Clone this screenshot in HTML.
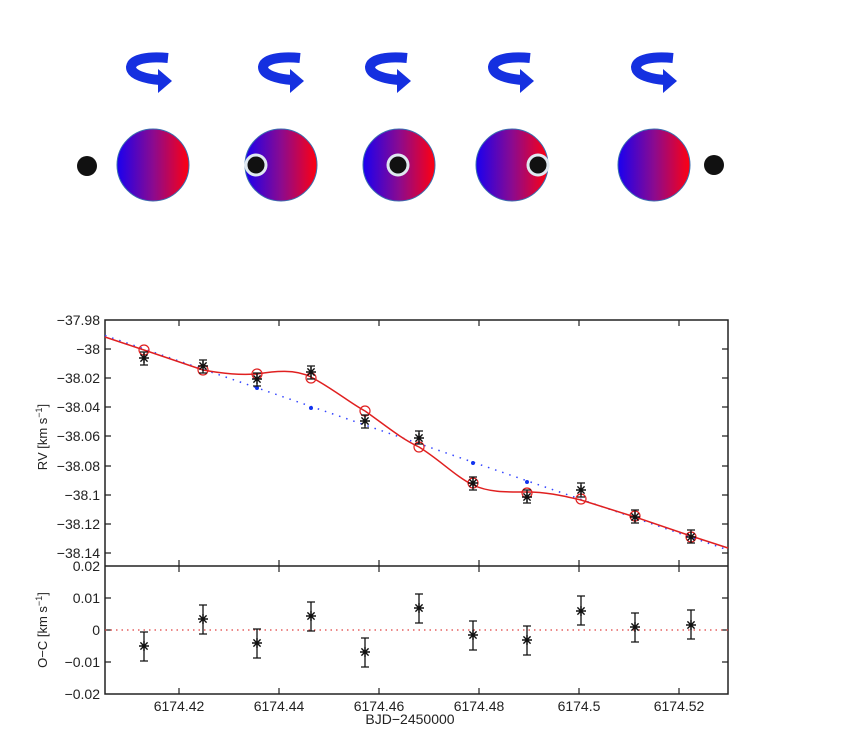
<!DOCTYPE html>
<html><head><meta charset="utf-8"><style>
html,body{margin:0;padding:0;background:#fff;}
svg{display:block;font-family:"Liberation Sans",sans-serif;}
</style></head><body>
<svg width="850" height="756" viewBox="0 0 850 756" xmlns="http://www.w3.org/2000/svg">
<defs>
<linearGradient id="g" x1="0" x2="1" y1="0" y2="0">
<stop offset="0" stop-color="#1a00f0"/><stop offset="0.5" stop-color="#8a0a90"/><stop offset="1" stop-color="#ff0010"/>
</linearGradient>
<g id="arr">
<path d="M40,5 C20,3 4,6 3,14 C3,22 18,26 32,27" fill="none" stroke="#1530e0" stroke-width="10"/>
<polygon points="30,16 44,28 30,40" fill="#1530e0"/>
</g>
<path id="st" d="M-5,0h10M0,-5v10M-3.6,-3.6l7.2,7.2M-3.6,3.6l7.2,-7.2" stroke="#111" stroke-width="1.4" fill="none"/>
</defs>
<use href="#arr" x="128" y="53"/>
<use href="#arr" x="260" y="53"/>
<use href="#arr" x="367" y="53"/>
<use href="#arr" x="490" y="53"/>
<use href="#arr" x="633" y="53"/>
<g stroke="#3a6fb0" stroke-width="1">
<circle cx="153" cy="165" r="36" fill="url(#g)"/>
<circle cx="281" cy="165" r="36" fill="url(#g)"/>
<circle cx="399" cy="165" r="36" fill="url(#g)"/>
<circle cx="512" cy="165" r="36" fill="url(#g)"/>
<circle cx="654" cy="165" r="36" fill="url(#g)"/>
</g>
<circle cx="87" cy="166" r="10" fill="#111"/>
<circle cx="714" cy="165" r="10" fill="#111"/>
<g fill="#111" stroke="#dfe8f0" stroke-width="3">
<circle cx="256" cy="165" r="10"/>
<circle cx="398" cy="165" r="10"/>
<circle cx="538" cy="165" r="10"/>
</g>
<g fill="none" stroke="#222" stroke-width="1.5">
<rect x="105" y="320" width="623" height="374"/>
<line x1="105" y1="566" x2="728" y2="566"/>
</g>
<g stroke="#222" stroke-width="1.2">
<path d="M179,320v6M279,320v6M379,320v6M479,320v6M579,320v6M679,320v6"/>
<path d="M179,566v-6M279,566v-6M379,566v-6M479,566v-6M579,566v-6M679,566v-6"/>
<path d="M179,566v6M279,566v6M379,566v6M479,566v6M579,566v6M679,566v6"/>
<path d="M179,694v-6M279,694v-6M379,694v-6M479,694v-6M579,694v-6M679,694v-6"/>
<path d="M105,349h6M105,378h6M105,407h6M105,436h6M105,466h6M105,495h6M105,524h6M105,553h6"/>
<path d="M728,349h-6M728,378h-6M728,407h-6M728,436h-6M728,466h-6M728,495h-6M728,524h-6M728,553h-6"/>
<path d="M105,598h6M105,630h6M105,662h6M728,598h-6M728,630h-6M728,662h-6"/>
</g>
<g font-size="14" fill="#222" text-anchor="end">
<text x="100" y="325">−37.98</text>
<text x="100" y="354">−38</text>
<text x="100" y="383">−38.02</text>
<text x="100" y="412">−38.04</text>
<text x="100" y="441">−38.06</text>
<text x="100" y="471">−38.08</text>
<text x="100" y="500">−38.1</text>
<text x="100" y="529">−38.12</text>
<text x="100" y="558">−38.14</text>
<text x="100" y="571">0.02</text>
<text x="100" y="603">0.01</text>
<text x="100" y="635">0</text>
<text x="100" y="667">−0.01</text>
<text x="100" y="699">−0.02</text>
</g>
<g font-size="14" fill="#222" text-anchor="middle">
<text x="179" y="711">6174.42</text>
<text x="279" y="711">6174.44</text>
<text x="379" y="711">6174.46</text>
<text x="479" y="711">6174.48</text>
<text x="579" y="711">6174.5</text>
<text x="679" y="711">6174.52</text>
<text x="410" y="724">BJD−2450000</text>
</g>
<g font-size="13" fill="#222" text-anchor="middle">
<text transform="translate(47,437) rotate(-90)">RV [km s<tspan font-size="9" dy="-5">−1</tspan><tspan dy="5">]</tspan></text>
<text transform="translate(47,630) rotate(-90)">O−C [km s<tspan font-size="9" dy="-5">−1</tspan><tspan dy="5">]</tspan></text>
</g>
<line x1="105" y1="335.5" x2="728" y2="550" stroke="#3344ff" stroke-width="1.5" stroke-dasharray="1.5 6"/>
<g fill="#1133ee"><circle cx="257" cy="388" r="2"/><circle cx="311" cy="408" r="2"/><circle cx="473" cy="463" r="2"/><circle cx="527" cy="482" r="2"/></g>
<path d="M105,337 L144,350 L203,370 C225,374 240,375 257,374 C275,371 295,369 311,377 C335,390 350,403 365,411 C385,425 400,438 419,447 C440,460 455,476 473,485 C490,493 510,492 527,492 C545,492 560,495 581,500 L635,517 L691,536 L728,548" fill="none" stroke="#e02020" stroke-width="1.5"/>
<g fill="none" stroke="#e02020" stroke-width="1.2">
<circle cx="144" cy="350" r="5"/><circle cx="203" cy="370" r="5"/><circle cx="257" cy="374" r="5"/><circle cx="311" cy="378" r="5"/><circle cx="365" cy="411" r="5"/><circle cx="419" cy="447" r="5"/><circle cx="473" cy="483" r="5"/><circle cx="527" cy="493" r="5"/><circle cx="581" cy="499" r="5"/><circle cx="635" cy="516" r="5"/><circle cx="691" cy="537" r="5"/>
</g>
<g stroke="#111" stroke-width="1.3" fill="none">
<path d="M144,352v13M140,352h8M140,365h8 M203,360v13M199,360h8M199,373h8 M257,373v13M253,373h8M253,386h8 M311,366v13M307,366h8M307,379h8 M365,415v13M361,415h8M361,428h8 M419,431v13M415,431h8M415,444h8 M473,477v13M469,477h8M469,490h8 M527,490v13M523,490h8M523,503h8 M581,483v14M577,483h8M577,497h8 M635,510v13M631,510h8M631,523h8 M691,530v13M687,530h8M687,543h8"/>
</g>
<use href="#st" x="144" y="358"/><use href="#st" x="203" y="366"/><use href="#st" x="257" y="379"/><use href="#st" x="311" y="372"/><use href="#st" x="365" y="421"/><use href="#st" x="419" y="438"/><use href="#st" x="473" y="483"/><use href="#st" x="527" y="497"/><use href="#st" x="581" y="490"/><use href="#st" x="635" y="517"/><use href="#st" x="691" y="537"/>
<line x1="105" y1="630" x2="728" y2="630" stroke="#e04040" stroke-width="1.2" stroke-dasharray="1.5 4"/>
<g stroke="#111" stroke-width="1.3" fill="none">
<path d="M144,632v29M140,632h8M140,661h8 M203,605v29M199,605h8M199,634h8 M257,629v29M253,629h8M253,658h8 M311,602v29M307,602h8M307,631h8 M365,638v29M361,638h8M361,667h8 M419,594v29M415,594h8M415,623h8 M473,621v29M469,621h8M469,650h8 M527,626v29M523,626h8M523,655h8 M581,596v29M577,596h8M577,625h8 M635,613v29M631,613h8M631,642h8 M691,610v29M687,610h8M687,639h8"/>
</g>
<use href="#st" x="144" y="646"/><use href="#st" x="203" y="619"/><use href="#st" x="257" y="643"/><use href="#st" x="311" y="616"/><use href="#st" x="365" y="652"/><use href="#st" x="419" y="608"/><use href="#st" x="473" y="635"/><use href="#st" x="527" y="640"/><use href="#st" x="581" y="611"/><use href="#st" x="635" y="627"/><use href="#st" x="691" y="625"/>
</svg>
</body></html>
